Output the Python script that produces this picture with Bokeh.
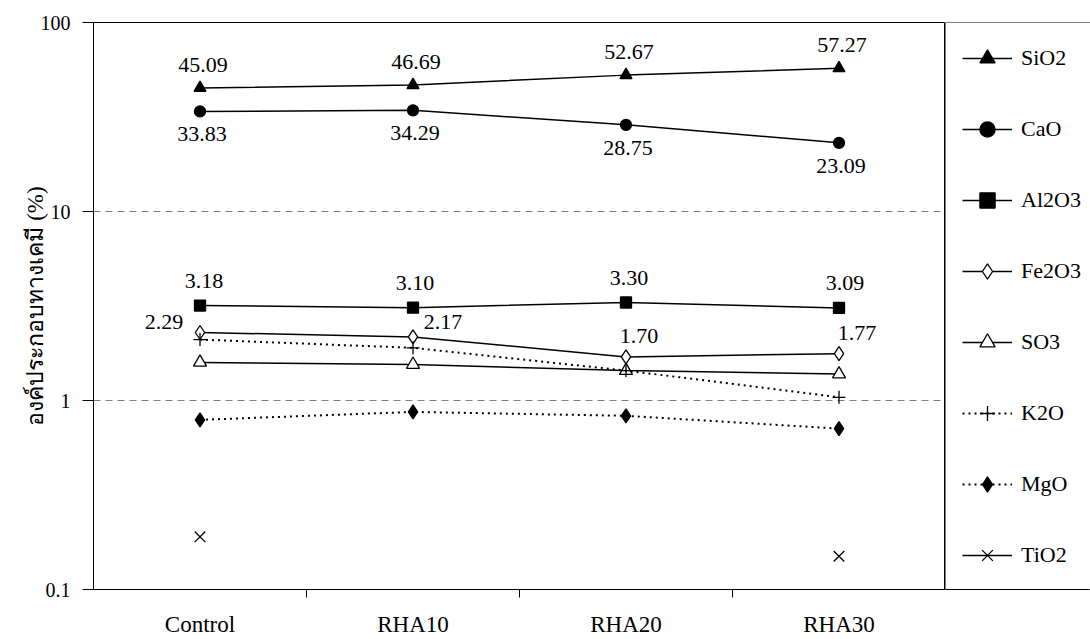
import numpy as np
from bokeh.plotting import figure
from bokeh.layouts import row
from bokeh.models import (FactorRange, Range1d, CategoricalAxis, FixedTicker,
                          Legend, LegendItem, ColumnDataSource)
from bokeh.core.properties import value
from bokeh.embed import file_html
from bokeh.resources import INLINE

# ---------------- data ----------------
samples = ["Control", "RHA10", "RHA20", "RHA30"]
sio2 = [45.09, 46.69, 52.67, 57.27]
cao = [33.83, 34.29, 28.75, 23.09]
al2o3 = [3.18, 3.10, 3.30, 3.09]
fe2o3 = [2.29, 2.17, 1.70, 1.77]
so3 = [1.59, 1.55, 1.44, 1.38]
k2o = [2.10, 1.90, 1.44, 1.04]
mgo = [0.79, 0.87, 0.83, 0.71]
tio2 = [0.19, np.nan, np.nan, 0.15]
y_ticks = [0.1, 1, 10, 100]
y_tick_labels = ["0.1", "1", "10", "100"]
y_title = "องค์ประกอบทางเคมี (%)"

FONT = "Liberation Serif"

p = figure(width=945, height=639,
           x_range=FactorRange(*samples, range_padding=0),
           y_range=Range1d(0.1, 100), y_axis_type="log",
           output_backend="svg", toolbar_location=None,
           x_axis_location=None,
           min_border_left=93, min_border_top=22, min_border_bottom=50, min_border_right=0)
p.background_fill_color = "white"
p.border_fill_color = "white"
p.outline_line_color = "black"
p.outline_line_width = 1

# y axis
ya = p.yaxis[0]
ya.ticker = FixedTicker(ticks=y_ticks)
ya.major_label_overrides = {t: l for t, l in zip(y_ticks, y_tick_labels)}
ya.minor_tick_line_color = None
ya.major_tick_in = 0
ya.major_tick_out = 11
ya.major_label_standoff = 12
ya.major_label_text_font = FONT
ya.major_label_text_font_size = "20px"
ya.major_label_text_color = "black"
ya.axis_line_color = "black"
ya.axis_label = y_title
ya.axis_label_text_font = FONT
ya.axis_label_text_font_size = "23px"
ya.axis_label_text_font_style = "normal"
ya.axis_label_text_color = "black"
ya.axis_label_standoff = -10

# grid
p.xgrid.visible = False
p.ygrid[0].ticker = FixedTicker(ticks=[1, 10])
p.ygrid[0].grid_line_color = "#7f7f7f"
p.ygrid[0].grid_line_dash = "7 5"
p.ygrid[0].grid_line_width = 1

# x axes: boundary ticks (extra categorical range whose factor centres sit on the
# category boundaries) + category labels
bounds = [f"b{i}" for i in range(len(samples) + 1)]
p.extra_x_ranges = {"bounds": FactorRange(*bounds, range_padding=-0.5,
                                          range_padding_units="absolute")}
tick_axis = CategoricalAxis(x_range_name="bounds",
                            major_tick_out=8, major_tick_in=0,
                            major_label_text_font_size="1px", major_label_text_color=None,
                            major_label_standoff=0, axis_line_color="black")
cat_axis = CategoricalAxis(axis_line_color=None, major_tick_line_color=None,
                           major_tick_out=0, major_tick_in=0, major_label_standoff=14,
                           major_label_text_font=FONT, major_label_text_font_size="23px",
                           major_label_text_color="black")
p.add_layout(tick_axis, "below")
p.add_layout(cat_axis, "below")

# legend panel figure (its copies of the series lie outside its view; only the legend shows)
lf = figure(width=145, height=639,
            x_range=FactorRange(*samples, range_padding=0),
            y_range=Range1d(1000, 2000), y_axis_type="log",
            output_backend="svg", toolbar_location=None,
            x_axis_location=None, y_axis_location=None,
            min_border_left=0, min_border_top=22, min_border_bottom=50, min_border_right=0)
lf.xgrid.visible = False
lf.ygrid.visible = False
lf.outline_line_color = "black"
lf.outline_line_width = 1
lf.background_fill_color = "white"
lf.border_fill_color = "white"

# ---------------- series ----------------
series = [
    ("SiO2", sio2, "triangle", "black", "solid", 12),
    ("CaO", cao, "circle", "black", "solid", 11),
    ("Al2O3", al2o3, "square", "black", "solid", 11),
    ("Fe2O3", fe2o3, "diamond", "white", "solid", 14),
    ("SO3", so3, "triangle", "white", "solid", 13),
    ("K2O", k2o, "cross", "black", "2 4", 13),
    ("MgO", mgo, "diamond", "black", "2 4", 14),
    ("TiO2", tio2, "x", "black", "solid", 15),
]

items = []
for name, vals, marker, fill, dash, size in series:
    src = ColumnDataSource(dict(x=samples, y=vals))
    lw = 2 if dash != "solid" else 1.5
    for fig in (p, lf):
        lr = fig.line("x", "y", source=src, line_color="black", line_width=lw, line_dash=dash)
        sr = fig.scatter("x", "y", source=src, marker=marker, size=size, fill_color=fill,
                         line_color="black", line_width=1.3)
    items.append(LegendItem(label=name, renderers=[lr, sr]))

# ---------------- data labels ----------------
def labels(vals, xo, yo):
    p.text(x=samples, y=vals, text=[f"{v:.2f}" for v in vals], x_offset=xo, y_offset=yo,
           text_align="center", text_baseline="middle", text_font=value(FONT),
           text_font_size="22px", text_color="black")

labels(sio2, [3, 3, 3, 3], [-23, -23, -23, -23])
labels(cao, [2, 2, 2, 2], [23, 23, 23, 23])
labels(al2o3, [4, 2, 3, 6], [-25, -25, -25, -25])
labels(fe2o3, [-36, 30, 13, 18], [-10, -15, -21, -21])

# ---------------- legend ----------------
legend = Legend(items=items, location="top_left", orientation="vertical",
                margin=0, padding=16, spacing=33,
                glyph_width=50, glyph_height=38, label_height=38,
                label_standoff=9,
                label_text_font=FONT, label_text_font_size="22px", label_text_color="black",
                border_line_color="black", border_line_width=1,
                background_fill_color="white", background_fill_alpha=1)
lf.add_layout(legend, "center")

layout = row(p, lf, spacing=0)
open("out.html", "w").write(file_html(layout, INLINE))
